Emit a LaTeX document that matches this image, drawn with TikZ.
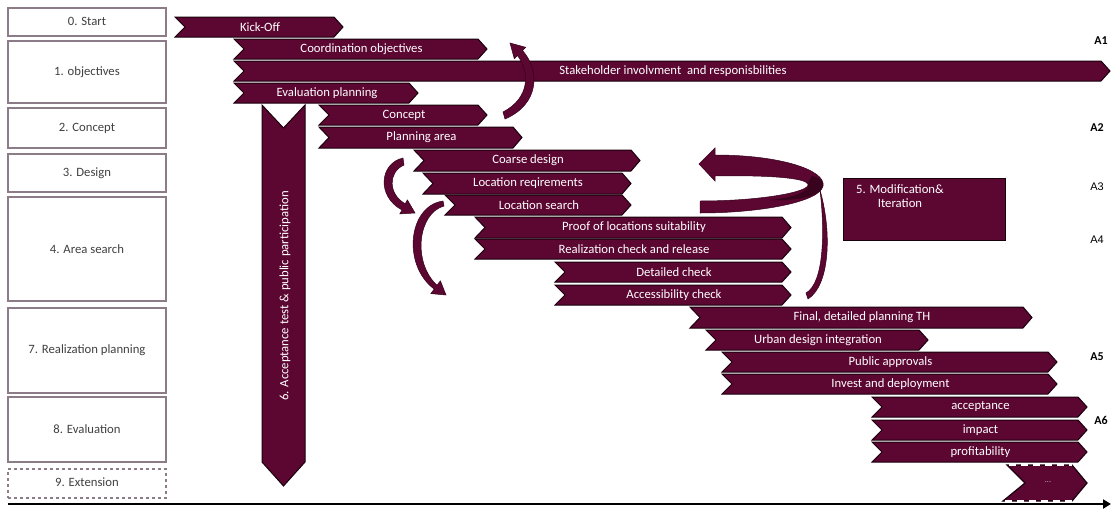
\documentclass[tikz,border=0pt]{standalone}
\usepackage{fontspec}
\setmainfont{Carlito}
\newfontfamily\arialfont{Liberation Sans}
\usetikzlibrary{arrows.meta}

\definecolor{wine}{RGB}{92,6,50}
\definecolor{rim}{RGB}{25,0,12}
\definecolor{boxline}{RGB}{140,124,136}
\definecolor{boxtext}{RGB}{64,64,64}

\tikzset{
  every node/.style={font=\fontsize{12.7}{14}\selectfont},
  phasebox/.style={draw=boxline, line width=1.1pt, fill=white, minimum width=158pt,
                   text=boxtext, inner sep=0pt},
  chevshape/.style={fill=wine, draw=rim, line width=1pt, line join=miter},
  chevtext/.style={text=white, inner sep=0pt},
  ribbon/.style={fill=wine, draw=rim!60!wine, line width=0.5pt},
  alabel/.style={text=black, inner sep=0pt},
}

% chevron bar: name, left x, right x, top y, bottom y, label
\newcommand\chev[6]{%
  \path[chevshape] (#2,#4) -- ({#3-9},#4) -- (#3,{(#4+#5)/2}) -- ({#3-9},#5)
        -- (#2,#5) -- ({#2+10},{(#4+#5)/2}) -- cycle;
  \node[chevtext] (#1) at ({(#2+#3)/2+1},{(#4+#5)/2}) {#6};
}

\begin{document}
\begin{tikzpicture}[x=1pt,y=-1pt]
\useasboundingbox (0,0) rectangle (1112,509);

% ---- phase column ----
\node[phasebox, minimum height=28pt]  (p0) at (87,22)    {\raisebox{2pt}{0. Start}};
\node[phasebox, minimum height=62pt]  (p1) at (87,72)    {1. objectives};
\node[phasebox, minimum height=40pt]  (p2) at (87,128)   {2. Concept};
\node[phasebox, minimum height=38pt]  (p3) at (87,173)   {3. Design};
\node[phasebox, minimum height=104pt] (p4) at (87,249)   {4. Area search};
\node[phasebox, minimum height=85pt]  (p7) at (87,350.5) {7. Realization planning};
\node[phasebox, minimum height=65pt]  (p8) at (87,429.5) {8. Evaluation};
\node[phasebox, minimum height=29pt, dashed] (p9) at (87,483.5) {\raisebox{2pt}{9. Extension}};

% ---- acceptance test column ----
\path[chevshape] (262,105) -- (283.5,128) -- (305,105) -- (305,462) -- (283.5,486)
      -- (262,462) -- cycle;
\node[chevtext, rotate=90] (accept6) at (285,296) {6. Acceptance test \& public participation};

% ---- task bars ----
\chev{kickoff}{175}{343}{17}{37}{Kick-Off}
\chev{coord}{234}{487}{39}{59}{Coordination objectives}
\chev{stake}{234}{1110}{61}{81}{Stakeholder involvment\ \ and responisbilities}
\chev{evalplan}{234}{418}{83}{103}{Evaluation planning}
\chev{concept}{319}{487}{105}{125}{Concept}
\chev{planarea}{319}{522}{127}{148}{Planning area}
\chev{coarse}{414}{640}{150}{171}{Coarse design}
\chev{locreq}{423}{631}{173}{194}{Location reqirements}
\chev{locsearch}{445}{631}{195}{215}{Location search}
\chev{proof}{475}{791}{217}{238}{Proof of locations suitability}
\chev{realcheck}{475}{791}{239}{259}{Realization check and release}
\chev{detail}{555}{791}{262}{282}{Detailed check}
\chev{access}{555}{791}{285}{305}{Accessibility check}
\chev{finalplan}{690}{1032}{307}{328}{Final, detailed planning TH}
\chev{urban}{706}{928}{330}{350}{Urban design integration}
\chev{approvals}{722}{1057}{352}{372}{Public approvals}
\chev{invest}{722}{1057}{374}{394}{Invest and deployment}
\chev{acceptance}{872}{1087}{397}{417}{acceptance}
\chev{impact}{872}{1087}{420}{440}{impact}
\chev{profit}{872}{1087}{442}{462}{profitability}

% open-ended extension bar
\path[fill=wine, draw=rim, line width=1.2pt] (1007,465) -- (1072,465) -- (1087,483)
      -- (1072,501) -- (1003,501) -- (1025,483) -- cycle;
\draw[white, line width=1.2pt, dash pattern=on 7pt off 5pt] (1009,465) -- (1072,465);
\draw[white, line width=1.2pt, dash pattern=on 7pt off 5pt] (1005,501) -- (1072,501);
\node[text=white!75!wine, inner sep=0pt, font=\fontsize{8}{9}\selectfont] (more) at (1048,482) {...};

% ---- modification & iteration ----
\node[fill=wine, draw=rim, line width=1pt, minimum width=162pt, minimum height=62pt,
      inner sep=0pt] (modif) at (924,209) {};
\node[chevtext, align=center] (modiftext) at (900,196) {5. Modification\&\\Iteration};

% ---- feedback arrows ----
% back to the objectives
\path[ribbon] (505,119) .. controls (540,104) and (540,70) .. (522.5,50.5)
  -- (525.7,47.3) -- (510,43) -- (514.3,58.7) -- (517.5,55.5)
  .. controls (530,72) and (530,98) .. (503,112) -- cycle;
% design -> location search
\path[ribbon] (403,158) .. controls (380,163) and (376,196) .. (402,210)
  -- (399.8,213.9) -- (415,213) -- (407.4,199.9) -- (405.2,203.8)
  .. controls (388,194) and (388,172) .. (404,165) -- cycle;
% location search -> checks
\path[ribbon] (443,201) .. controls (408,206) and (402,265) .. (434.2,289.1)
  -- (430.8,293.6) -- (446,295) -- (440.4,280.8) -- (437.0,285.3)
  .. controls (412,262) and (418,213) .. (444,206) -- cycle;
% large iteration loop
\path[ribbon] (808,299) .. controls (830,285) and (832,232) .. (820,190)
  .. controls (825,232) and (824,283) .. (806,293) -- cycle;
\path[ribbon] (700,213) .. controls (760,213) and (820,202) .. (823,186)
  .. controls (826,170) and (780,155) .. (715,155)
  -- (715,148) -- (699,164) -- (715,181) -- (715,176)
  .. controls (770,175) and (805,178) .. (808,184)
  .. controls (811,192) and (760,201) .. (700,201) -- cycle;
\path[fill=rim!55!wine] (808,184) .. controls (811,192) and (790,198) .. (770,200)
  .. controls (795,201) and (820,197) .. (823,186) .. controls (824,180) and (818,177) .. (812,176)
  .. controls (810,179) and (808,181) .. (808,184) -- cycle;

% ---- stage labels ----
\node[alabel, font=\bfseries\fontsize{12}{14}\selectfont] (a1) at (1101,41) {A1};
\node[alabel, font=\bfseries\fontsize{12}{14}\selectfont] (a2) at (1097,128) {A2};
\node[alabel, font=\arialfont\fontsize{11}{13}\selectfont] (a3) at (1097,187) {A3};
\node[alabel, font=\arialfont\fontsize{11}{13}\selectfont] (a4) at (1097,240) {A4};
\node[alabel, font=\bfseries\fontsize{12}{14}\selectfont] (a5) at (1097,357) {A5};
\node[alabel, font=\bfseries\fontsize{12}{14}\selectfont] (a6) at (1101,420) {A6};

% ---- time axis ----
\coordinate (t0) at (8,504);
\coordinate (t1) at (1111,504);
\draw[line width=2.6pt, -{Triangle[length=8pt,width=9pt]}] (t0) -- (t1);
\end{tikzpicture}
\end{document}
